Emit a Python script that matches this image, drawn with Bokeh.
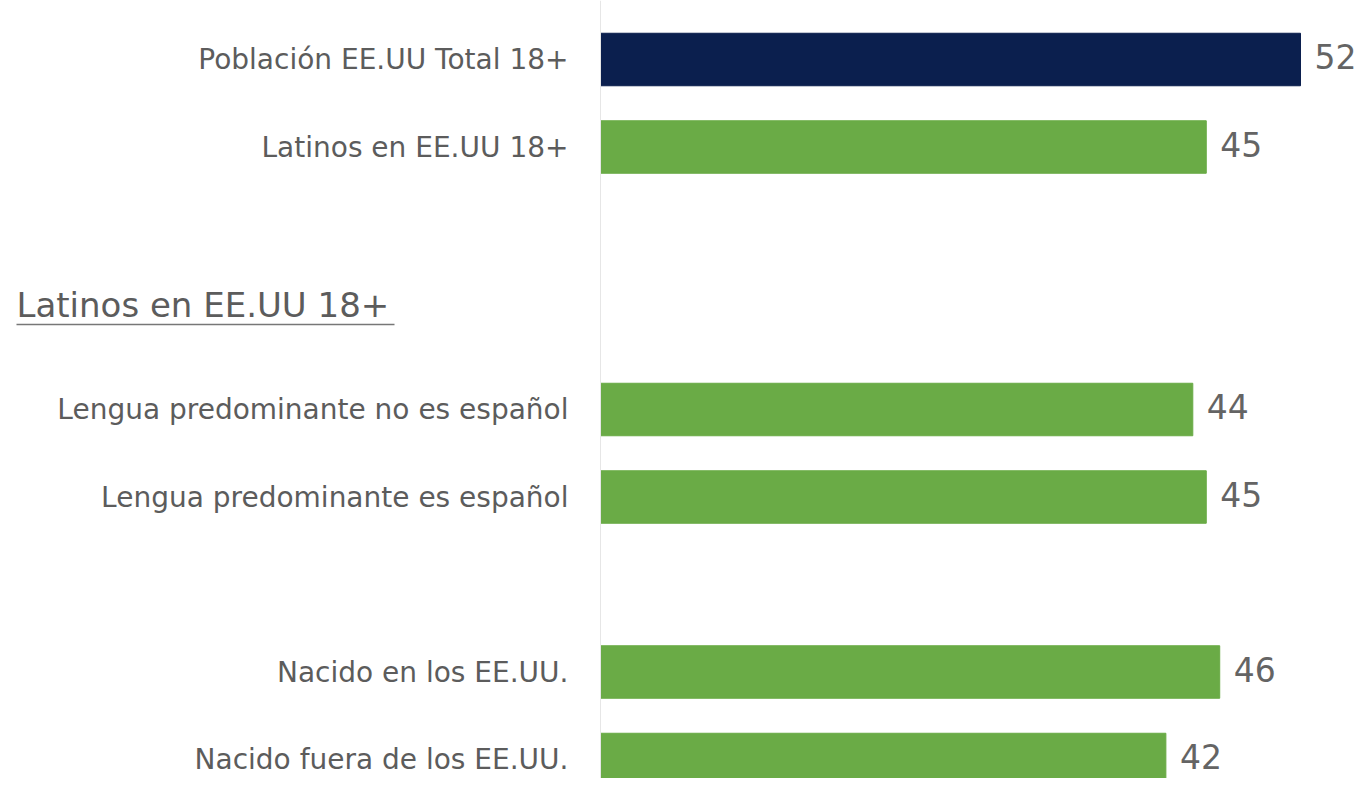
from bokeh.plotting import figure
from bokeh.models import ColumnDataSource, Range1d, Span
from bokeh.core.properties import value
from bokeh.embed import file_html
from bokeh.resources import INLINE

# ---- data ----
categories = [
    "Población EE.UU Total 18+",
    "Latinos en EE.UU 18+",
    "Lengua predominante no es español",
    "Lengua predominante es español",
    "Nacido en los EE.UU.",
    "Nacido fuera de los EE.UU.",
]
values = [52, 45, 44, 45, 46, 42]
row_positions = [0, 1, 4, 5, 7, 8]
group_heading = "Latinos en EE.UU 18+"
heading_row = 2.8

NAVY = "#0b1f4e"
GREEN = "#6aab46"
colors = [NAVY] + [GREEN] * 5
TEXT = "#5c5c5c"
FONT = "DejaVu Sans"

# ---- layout (pixels) ----
W, H = 1359, 778
px_per_unit = 700 / 52.0
row_px = 87.5
x0_px = 600          # pixel of value 0
row0_px = 59         # pixel of row 0 centre

x_start = -x0_px / px_per_unit
x_end = (W - x0_px) / px_per_unit
y_top = -row0_px / row_px
y_bottom = (H - row0_px) / row_px

p = figure(width=W, height=H, output_backend="svg", toolbar_location=None,
           x_range=Range1d(x_start, x_end), y_range=Range1d(y_bottom, y_top),
           min_border=0, outline_line_color=None)
p.axis.visible = False
p.grid.visible = False
p.background_fill_color = "white"
p.border_fill_color = "white"

src = ColumnDataSource(dict(cat=categories, val=values, y=row_positions,
                            color=colors, lbl=[str(v) for v in values],
                            zero=[0] * len(values)))

p.hbar(y="y", left=0, right="val", height=0.6, color="color", source=src)

p.add_layout(Span(location=0, dimension="height", line_color="#e6e6e6", line_width=1))

p.text(x="zero", y="y", text="cat", source=src, x_offset=-32,
       text_align="right", text_baseline="middle",
       text_font=value(FONT), text_font_size="28px", text_color=TEXT)

p.text(x="val", y="y", text="lbl", source=src, x_offset=14, y_offset=-3,
       text_align="left", text_baseline="middle",
       text_font=value(FONT), text_font_size="33px", text_color="#646464")

# group heading with underline
p.text(x=[x_start], y=[heading_row], text=[group_heading], x_offset=16,
       text_align="left", text_baseline="middle",
       text_font=value(FONT), text_font_size="34px", text_color=TEXT)
ul_x0 = x_start + 16 / px_per_unit
ul_x1 = x_start + 394 / px_per_unit
ul_y = heading_row + 20 / row_px
p.segment(x0=[ul_x0], y0=[ul_y], x1=[ul_x1], y1=[ul_y], line_color="#777777", line_width=1.5)

open("out.html", "w").write(file_html(p, INLINE))
